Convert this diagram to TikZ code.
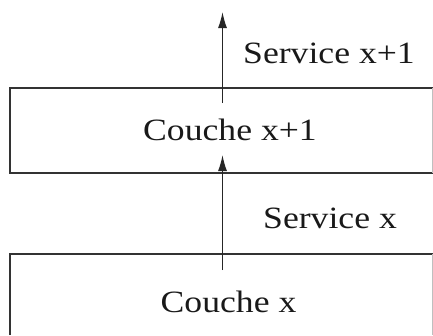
\documentclass[tikz,border=0pt]{standalone}
\usepackage{fontspec}
\setmainfont{Liberation Serif}[FakeStretch=1.15]
\usetikzlibrary{arrows.meta}
\begin{document}
\begin{tikzpicture}[x=1pt,y=-1pt,
  layerline/.style={draw=black!80,line width=1.6pt},
  edgeline/.style={draw=black!25,line width=1pt},
  flow/.style={draw=black!85,line width=1.3pt,-{Latex[length=16pt,width=9pt]}},
  label/.style={font=\fontsize{31}{36}\selectfont,anchor=base,inner sep=0pt,text=black!90}]
\useasboundingbox (0,0) rectangle (433,335);
% upper layer box
\draw[layerline] (433,88) -- (10,88) -- (10,173) -- (433,173);
\draw[edgeline] (432.5,88) -- (432.5,173);
% lower layer box, open at the bottom
\draw[layerline] (10,335) -- (10,254) -- (433,254);
\draw[edgeline] (432.5,254) -- (432.5,335);
% texts
\node[label] (svc1) at (329,63) {Service x+1};
\node[label] (cou1) at (230,140) {Couche x+1};
\node[label] (svc0) at (330,228) {Service x};
\node[label] (cou0) at (228.5,312) {Couche x};
% service arrows
\coordinate (a1s) at (222.5,103);
\coordinate (a1e) at (222.5,12);
\coordinate (a0s) at (222.5,270);
\coordinate (a0e) at (222.5,155);
\draw[flow] (a1s) -- (a1e);
\draw[flow] (a0s) -- (a0e);
\end{tikzpicture}
\end{document}
